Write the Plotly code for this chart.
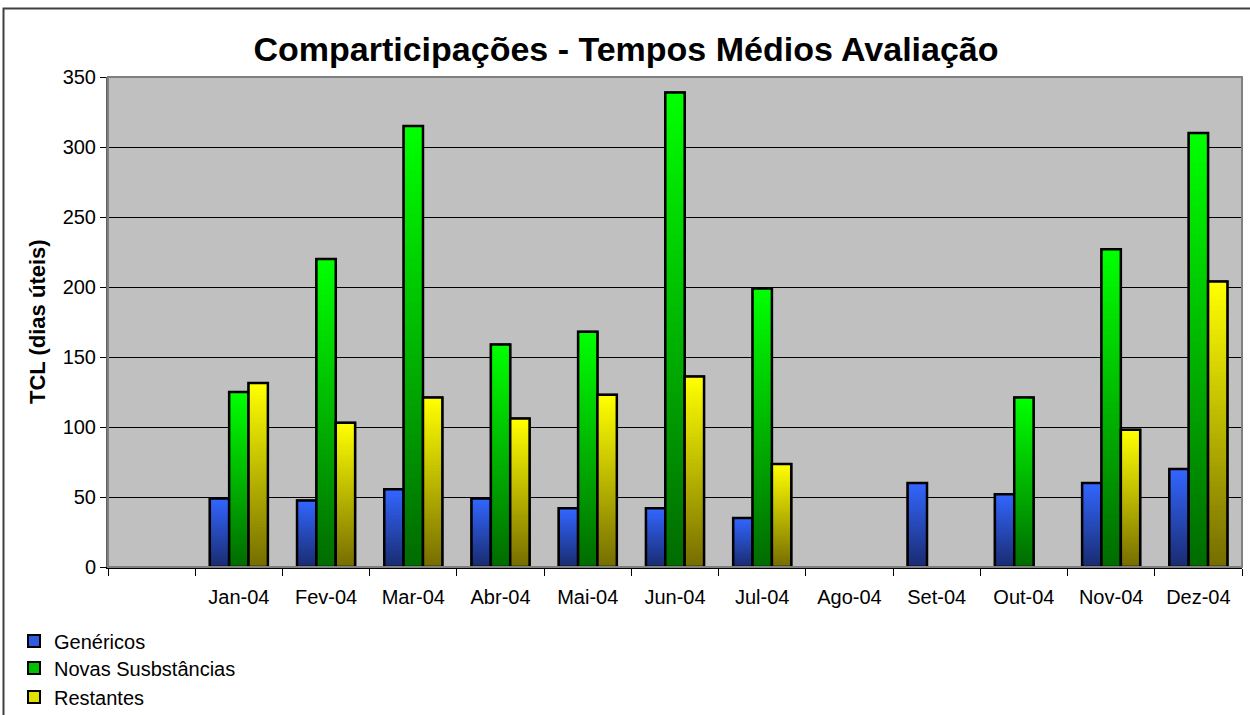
import plotly.graph_objects as go

# ---------------- data ----------------
categories = [" ", "Jan-04", "Fev-04", "Mar-04", "Abr-04", "Mai-04", "Jun-04",
              "Jul-04", "Ago-04", "Set-04", "Out-04", "Nov-04", "Dez-04"]
genericos = [None, 49, 47.5, 55.5, 49, 42, 42, 35, None, 60, 52, 60, 70]
novas_substancias = [None, 125, 220, 315, 159, 168, 339, 199, None, None, 121, 227, 310]
restantes = [None, 131.5, 103, 121, 106, 123, 136, 73.5, None, None, None, 98, 204]
series_names = ["Genéricos", "Novas Susbstâncias", "Restantes"]
series_values = [genericos, novas_substancias, restantes]

# ---------------- styles ----------------
FONT = "Liberation Sans, Arial, sans-serif"
top_colors = [(51, 102, 255), (0, 255, 0), (255, 255, 0)]
bottom_colors = [(26, 44, 112), (0, 108, 0), (118, 110, 0)]
legend_colors = ["#2f5be0", "#00c000", "#e0e000"]
legend_keys = ["legend", "legend2", "legend3"]
legend_y_px = [641, 668, 697]

W, H = 1250, 715
L, R, T, B = 108, 8, 77, 148
bar_w = 0.222
offsets = [-0.333, -0.111, 0.111]
N = 60

fig = go.Figure()

def lerp(c0, c1, t):
    return "rgb(%d,%d,%d)" % tuple(round(a + (b - a) * t) for a, b in zip(c0, c1))

for i, (name, vals) in enumerate(zip(series_names, series_values)):
    # legend / underlay trace
    fig.add_trace(go.Bar(
        x=categories, y=vals, offset=offsets[i], width=bar_w, name=name,
        marker=dict(color=legend_colors[i], line=dict(color="black", width=2)),
        legend=legend_keys[i], hoverinfo="skip"))
    # gradient slices
    for k in range(N):
        t = k / (N - 1)
        fig.add_trace(go.Bar(
            x=categories,
            base=[None if v is None else v * k / N for v in vals],
            y=[None if v is None else v * (N - k) / N for v in vals],
            offset=offsets[i], width=bar_w, showlegend=False, hoverinfo="skip",
            marker=dict(color=lerp(bottom_colors[i], top_colors[i], t), line=dict(width=0))))
    # outline
    fig.add_trace(go.Bar(
        x=categories, y=vals, offset=offsets[i], width=bar_w, showlegend=False,
        marker=dict(color="rgba(0,0,0,0)", line=dict(color="black", width=2.5)),
        hoverinfo="skip"))

legend_cfg = {}
for key, ypx in zip(legend_keys, legend_y_px):
    legend_cfg[key] = dict(
        xref="container", yref="container", x=14 / W, y=1 - ypx / H,
        xanchor="left", yanchor="middle", bgcolor="rgba(0,0,0,0)",
        font=dict(family=FONT, size=20, color="black"))

pw, ph = W - L - R, H - T - B

fig.update_layout(
    width=W, height=H,
    margin=dict(l=L, r=R, t=T, b=B, autoexpand=False),
    paper_bgcolor="white", plot_bgcolor="#c0c0c0",
    barmode="overlay",
    title=dict(text="<b>Comparticipações - Tempos Médios Avaliação</b>",
               xref="container", yref="container", x=626 / W, y=1 - 49 / H,
               xanchor="center", yanchor="middle",
               font=dict(family=FONT, size=34, color="black")),
    font=dict(family=FONT, size=20, color="black"),
    xaxis=dict(type="category", categoryorder="array", categoryarray=categories,
               showline=True, linecolor="black", linewidth=1.5,
               ticks="outside", tickson="boundaries", ticklen=7, tickcolor="black",
               tickfont=dict(family=FONT, size=20, color="black"),
               showgrid=False, zeroline=False, ticklabelstandoff=11),
    yaxis=dict(range=[0, 350], dtick=50, tick0=0,
               showline=True, linecolor="#606060", linewidth=2,
               ticks="outside", ticklen=6, tickcolor="black",
               showgrid=True, gridcolor="black", gridwidth=1, zeroline=False,
               tickfont=dict(family=FONT, size=20, color="black")),
    annotations=[
        dict(text="<b>TCL (dias úteis)</b>", textangle=-90, showarrow=False,
             xref="paper", yref="paper", x=(37 - L) / pw, y=(H - B - 322) / ph,
             xanchor="center", yanchor="middle",
             font=dict(family=FONT, size=22, color="black")),
    ],
    shapes=[
        dict(type="rect", xref="paper", yref="paper", x0=0, x1=1, y0=0, y1=1,
             line=dict(color="#808080", width=2), layer="above"),
        dict(type="rect", xref="paper", yref="paper",
             x0=(3.5 - L) / pw, x1=1.2, y0=(H - B - 8.5) / ph, y1=-0.6,
             line=dict(color="#404040", width=2), layer="above"),
    ],
    **legend_cfg,
)

fig.write_html("out.html", config={"displayModeBar": False},
               post_script="document.body.style.margin='0';document.body.style.overflow='hidden';")
